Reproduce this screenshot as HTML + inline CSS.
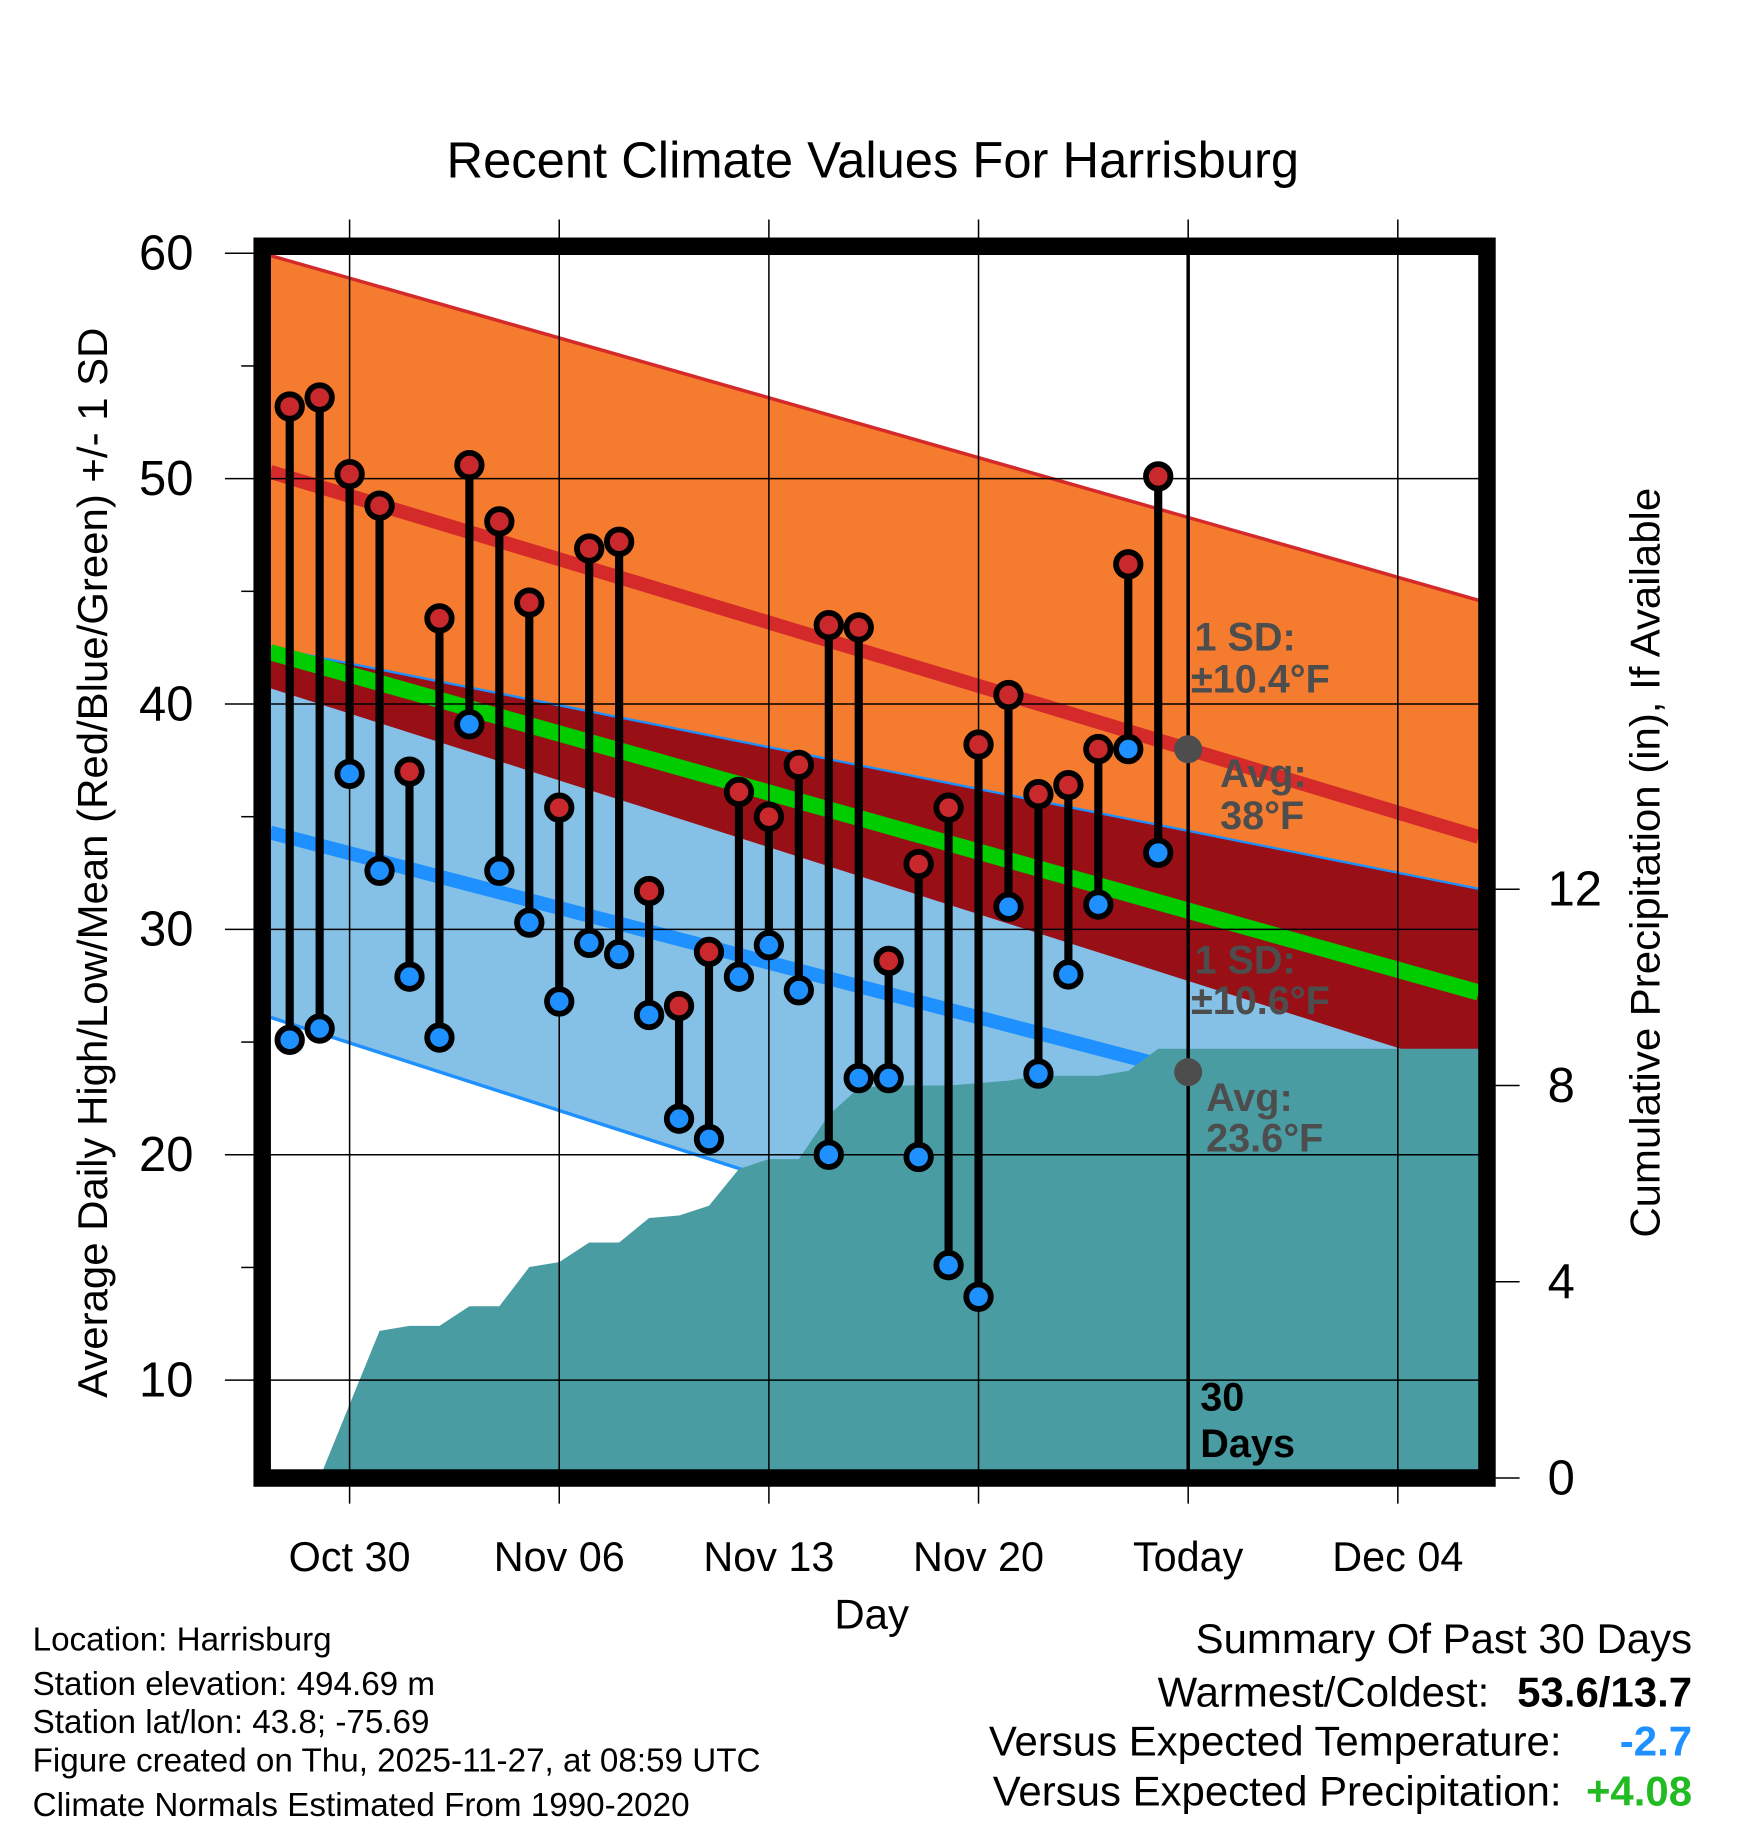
<!DOCTYPE html>
<html><head><meta charset="utf-8"><style>
html,body{margin:0;padding:0;background:#fff;}
svg{display:block;font-family:"Liberation Sans",Arial,sans-serif;}
</style></head><body>
<svg id="chart" width="1748" height="1828" viewBox="0 0 1500 1568" xmlns="http://www.w3.org/2000/svg">
<text x="749" y="152" font-size="43.5" text-anchor="middle">Recent Climate Values For Harrisburg</text>
<g id="plot"></g>
<text transform="translate(92,740) rotate(-90)" font-size="36" text-anchor="middle">Average Daily High/Low/Mean (Red/Blue/Green) +/- 1 SD</text>
<text transform="translate(1424,740) rotate(-90)" font-size="36" text-anchor="middle">Cumulative Precipitation (in), If Available</text>
<text x="748" y="1397" font-size="36" text-anchor="middle">Day</text>
<g font-size="28.5">
<text x="28" y="1416">Location: Harrisburg</text>
<text x="28" y="1454">Station elevation: 494.69 m</text>
<text x="28" y="1487">Station lat/lon: 43.8; -75.69</text>
<text x="28" y="1520">Figure created on Thu, 2025-11-27, at 08:59 UTC</text>
<text x="28" y="1558">Climate Normals Estimated From 1990-2020</text>
</g>
<g font-size="36" text-anchor="end">
<text x="1452" y="1418">Summary Of Past 30 Days</text>
<text x="1278" y="1464">Warmest/Coldest:</text>
<text x="1452" y="1464" font-weight="bold">53.6/13.7</text>
<text x="1340" y="1506">Versus Expected Temperature:</text>
<text x="1452" y="1506" font-weight="bold" fill="#1E90FF">-2.7</text>
<text x="1340" y="1549">Versus Expected Precipitation:</text>
<text x="1452" y="1549" font-weight="bold" fill="#22BB22">+4.08</text>
</g>
</svg>
<script>
const days = [-2,-1,0,1,2,3,4,5,6,7,8,9,10,11,12,13,14,15,16,17,18,19,20,21,22,23,24,25,26,27];
const highs = [53.2,53.6,50.2,48.8,37.0,43.8,50.6,48.1,44.5,35.4,46.9,47.2,31.7,26.6,29.0,36.1,35.0,37.3,43.5,43.4,28.6,32.9,35.4,38.2,40.4,36.0,36.4,38.0,46.2,50.1];
const lows = [25.1,25.6,36.9,32.6,27.9,25.2,39.1,32.6,30.3,26.8,29.4,28.9,26.2,21.6,20.7,27.9,29.3,27.3,20.0,23.4,23.4,19.9,15.1,13.7,31.0,23.6,28.0,31.1,38.0,33.4];
const precipDays = [-1,0,1,2,3,4,5,6,7,8,9,10,11,12,13,14,15,16,17,18,19,20,21,22,23,24,25,26,27];
const precip = [0,1.5,3.0,3.1,3.1,3.5,3.5,4.3,4.4,4.8,4.8,5.3,5.35,5.55,6.3,6.5,6.5,7.4,7.95,8.0,8.0,8.0,8.05,8.1,8.2,8.2,8.2,8.3,8.75];
const normalDays = [-2.65,37.7];
const highMean = [50.3,34.1];
const highSD = [9.6,10.5];
const lowMean = [34.3,20.3];
const lowSD = [8.2,11.5];
const xTickDays = [0,7,14,21,28,35];
const xTickLabels = ["Oct 30","Nov 06","Nov 13","Nov 20","Today","Dec 04"];
const yTicks = [10,20,30,40,50,60];
const y2Ticks = [0,4,8,12];
const todayDay = 28;

const NS="http://www.w3.org/2000/svg";
const g=document.getElementById('plot');
const X=d=>300+d*25.7;
const Y=v=>217+(60-v)*19.34;
const Y2=p=>1268-p*42.1;
const L=232,R=1269,T=218,B=1261;
function el(tag,attrs,parent){const e=document.createElementNS(NS,tag);for(const k in attrs)e.setAttribute(k,attrs[k]);(parent||g).appendChild(e);return e;}
function lin(arr,d){const t=(d-normalDays[0])/(normalDays[1]-normalDays[0]);return arr[0]+(arr[1]-arr[0])*t;}
const clip=el('clipPath',{id:'pc'});el('rect',{x:L,y:T,width:R-L,height:B-T},clip);
const cg=el('g',{'clip-path':'url(#pc)'});
function bandIn(fTop,fBot,fill,name){
  const n=40;let pts=[];
  for(let i=0;i<=n;i++){const d=normalDays[0]+(normalDays[1]-normalDays[0])*i/n;pts.push(X(d)+','+Y(fTop(d)));}
  for(let i=n;i>=0;i--){const d=normalDays[0]+(normalDays[1]-normalDays[0])*i/n;pts.push(X(d)+','+Y(fBot(d)));}
  const p=el('polygon',{points:pts.join(' '),fill:fill},cg);
  
  
}
function lineIn(f,stroke,w,name){
  const n=40;let pts=[];
  for(let i=0;i<=n;i++){const d=normalDays[0]+(normalDays[1]-normalDays[0])*i/n;pts.push(X(d)+','+Y(f(d)));}
  const p=el('polyline',{points:pts.join(' '),fill:'none',stroke:stroke,'stroke-width':w},cg);
  
  
}
bandIn(d=>lin(highMean,d)+lin(highSD,d),d=>lin(highMean,d)-lin(highSD,d),'#F57C2E','high-sd-band');
bandIn(d=>lin(lowMean,d)+lin(lowSD,d),d=>lin(lowMean,d)-lin(lowSD,d),'#85C1E6','low-sd-band');
bandIn(d=>lin(lowMean,d)+lin(lowSD,d),d=>lin(highMean,d)-lin(highSD,d),'#980F16','overlap-band');
lineIn(d=>lin(highMean,d)+lin(highSD,d),'#D42A2A',3,'high-upper-sd-line');
lineIn(d=>lin(lowMean,d)+lin(lowSD,d),'#1E90FF',2,'low-upper-sd-line');
lineIn(d=>lin(lowMean,d)-lin(lowSD,d),'#1E90FF',3,'low-lower-sd-line');
lineIn(d=>lin(highMean,d),'#D42A2A',12,'high-mean-line');
lineIn(d=>lin(lowMean,d),'#1E90FF',12,'low-mean-line');
lineIn(d=>(lin(highMean,d)+lin(lowMean,d))/2,'#00CC00',14,'mean-line');
let pp=[X(precipDays[0])+','+Y2(0)];
precipDays.forEach((d,i)=>pp.push(X(d)+','+Y2(precip[i])));
pp.push(R+','+Y2(precip[precip.length-1]));pp.push(R+','+B);pp.push(X(precipDays[0])+','+B);
const pa=el('polygon',{points:pp.join(' '),fill:'#4A9CA3'},cg);


xTickDays.forEach((d,i)=>{
  const gl=el('line',{x1:X(d),x2:X(d),y1:188,y2:1290,stroke:'#000','stroke-width':1.3});
  
  
  const t=el('text',{x:X(d),y:1348,'font-size':35.5,'text-anchor':'middle'});t.textContent=xTickLabels[i];
  
  
});
yTicks.forEach(v=>{
  const gl=el('line',{x1:193,x2:R,y1:Y(v),y2:Y(v),stroke:'#000','stroke-width':1.3});
  
  
  const t=el('text',{x:166,y:Y(v)+14,'font-size':42,'text-anchor':'end'});t.textContent=v;
  
  
});
[15,25,35,45,55].forEach(v=>el('line',{x1:207,x2:218,y1:Y(v),y2:Y(v),stroke:'#000','stroke-width':1.3}));
y2Ticks.forEach(p=>{
  el('line',{x1:1283,x2:1304,y1:Y2(p),y2:Y2(p),stroke:'#000','stroke-width':1.3});
  const t=el('text',{x:1328,y:Y2(p)+14,'font-size':42});t.textContent=p;
  
  
});
const tl=el('line',{x1:X(todayDay),x2:X(todayDay),y1:T,y2:B,stroke:'#000','stroke-width':3});


function txt(x,y,s,fill,name){const t=el('text',{x:x,y:y,'font-size':34,'font-weight':'bold',fill:fill});t.textContent=s;}
txt(1025,558,'1 SD:','#4d4d4d','high-sd-label');txt(1022,594,'±10.4°F','#4d4d4d','high-sd-value');
txt(1047,675,'Avg:','#4d4d4d','high-avg-label');txt(1047,711,'38°F','#4d4d4d','high-avg-value');
txt(1025,835,'1 SD:','#4d4d4d','low-sd-label');txt(1022,870,'±10.6°F','#4d4d4d','low-sd-value');
txt(1035,953,'Avg:','#4d4d4d','low-avg-label');txt(1035,988,'23.6°F','#4d4d4d','low-avg-value');
txt(1030,1210,'30','#000','days-label-num');txt(1030,1250,'Days','#000','days-label');
const d1=el('circle',{cx:X(todayDay),cy:Y(lin(highMean,todayDay)),r:12,fill:'#4d4d4d'});


const d2=el('circle',{cx:X(todayDay),cy:Y(lin(lowMean,todayDay)),r:12,fill:'#4d4d4d'});


days.forEach((d,i)=>{
  const b=el('line',{x1:X(d),x2:X(d),y1:Y(highs[i]),y2:Y(lows[i]),stroke:'#000','stroke-width':7});
  
  
});
days.forEach((d,i)=>{
  const h=el('circle',{cx:X(d),cy:Y(highs[i]),r:10.5,fill:'#C9282D',stroke:'#000','stroke-width':5});
  
  
  const l=el('circle',{cx:X(d),cy:Y(lows[i]),r:10.5,fill:'#1E90FF',stroke:'#000','stroke-width':5});
  
  
});
const fr=el('rect',{x:225,y:211,width:1051,height:1057,fill:'none',stroke:'#000','stroke-width':15});


</script>
</body></html>
